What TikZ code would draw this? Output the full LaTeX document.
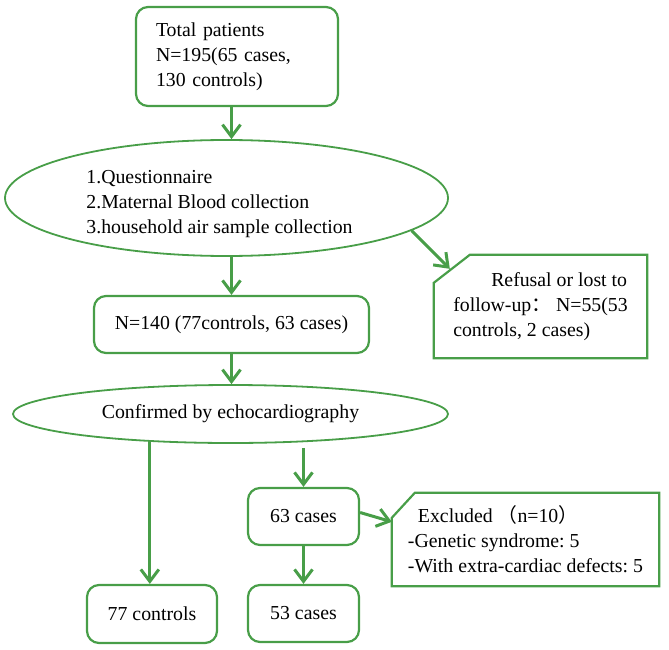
\documentclass[tikz,border=0pt]{standalone}
\usepackage{fontspec}
\setmainfont{Liberation Serif}
\newfontfamily\cjk{Noto Sans CJK SC}
\usetikzlibrary{arrows.meta,calc,shapes.geometric}
\definecolor{flowgreen}{RGB}{72,158,72}

\begin{document}
\begin{tikzpicture}[x=1pt,y=-1pt]
    \tikzset{box/.style = {shape=rectangle, draw=flowgreen, line width=2.2pt, rounded corners=12pt, font=\fontsize{19.8}{25}\selectfont\frenchspacing}}
    \tikzset{oval/.style = {shape=ellipse, draw=flowgreen, line width=1.8pt, inner sep=0pt, font=\fontsize{19.8}{25}\selectfont\frenchspacing}}
    \tikzset{note/.style = {shape=rectangle, inner sep=0pt, font=\fontsize{19.8}{25}\selectfont\frenchspacing}}
    \tikzset{frame/.style = {draw=flowgreen, line width=2.2pt}}
    \tikzset{arrow/.style = {draw=flowgreen, line width=3pt, -{Straight Barb[length=12pt,width=18pt]}}}
    \useasboundingbox (0,0) rectangle (669,650);
    % nodes
    \node[box, minimum width=202pt, minimum height=99pt, text width=162pt, inner xsep=20pt, align=left] (total) at (237,56.5) {Total patients\\N=195(65 cases,\\130 controls)};
    \node[oval, minimum width=443pt, minimum height=116pt] (q) at (226.5,198) {};
    \node[note, align=left] (qtext) at (219.5,204) {1.Questionnaire\\2.Maternal Blood collection\\3.household air sample collection};
    \node[box, minimum width=275pt, minimum height=57pt] (n140) at (231.5,324.5) {N=140 (77controls, 63 cases)};
    \node[note, minimum width=213pt, minimum height=103pt, align=left] (refuse) at (540.5,306.5) {\hspace*{38pt}Refusal or lost to\\follow-up{\cjk ：}\ N=55(53\\controls, 2 cases)};
    \node[oval, minimum width=435pt, minimum height=58pt] (echo) at (230.5,414) {Confirmed by echocardiography};
    \node[box, minimum width=130pt, minimum height=58pt] (ctrl77) at (152,614) {77 controls};
    \node[box, minimum width=111pt, minimum height=57pt] (case63) at (303.5,516.5) {63 cases};
    \node[box, minimum width=111pt, minimum height=57pt] (case53) at (303.5,613.5) {53 cases};
    \node[note, minimum width=267pt, minimum height=93pt, align=left] (excl) at (525.5,539.5) {\hspace*{10pt}Excluded {\cjk （}n=10{\cjk ）}\\-Genetic syndrome: 5\\-With extra-cardiac defects: 5};
    % cut corner frames
    \draw[frame] ($(refuse.north west)+(0,28)$) -- ($(refuse.north west)+(36,0)$) -- (refuse.north east) -- (refuse.south east) -- (refuse.south west) -- cycle;
    \draw[frame] ($(excl.north west)+(0,25)$) -- ($(excl.north west)+(23,0)$) -- (excl.north east) -- (excl.south east) -- (excl.south west) -- cycle;
    % arrows
    \draw[arrow] (total.south -| n140.north) -- (q.north -| n140.north);
    \draw[arrow] (q.south -| n140.north) -- (n140.north);
    \draw[arrow] (q.-10) -- ($(refuse.north west)+(16,14)$);
    \draw[arrow] (n140.south) -- (n140.south |- echo.north);
    \draw[arrow] (echo.-161) -- (echo.-161 |- ctrl77.north);
    \draw[arrow] ($(echo.south -| case63.north)+(0,4)$) -- (case63.north);
    \draw[arrow] (case63.south) -- (case53.north);
    \draw[arrow] ($(case63.east)+(0,-4)$) -- ($(excl.north west)+(0,29)$);
\end{tikzpicture}
\end{document}
